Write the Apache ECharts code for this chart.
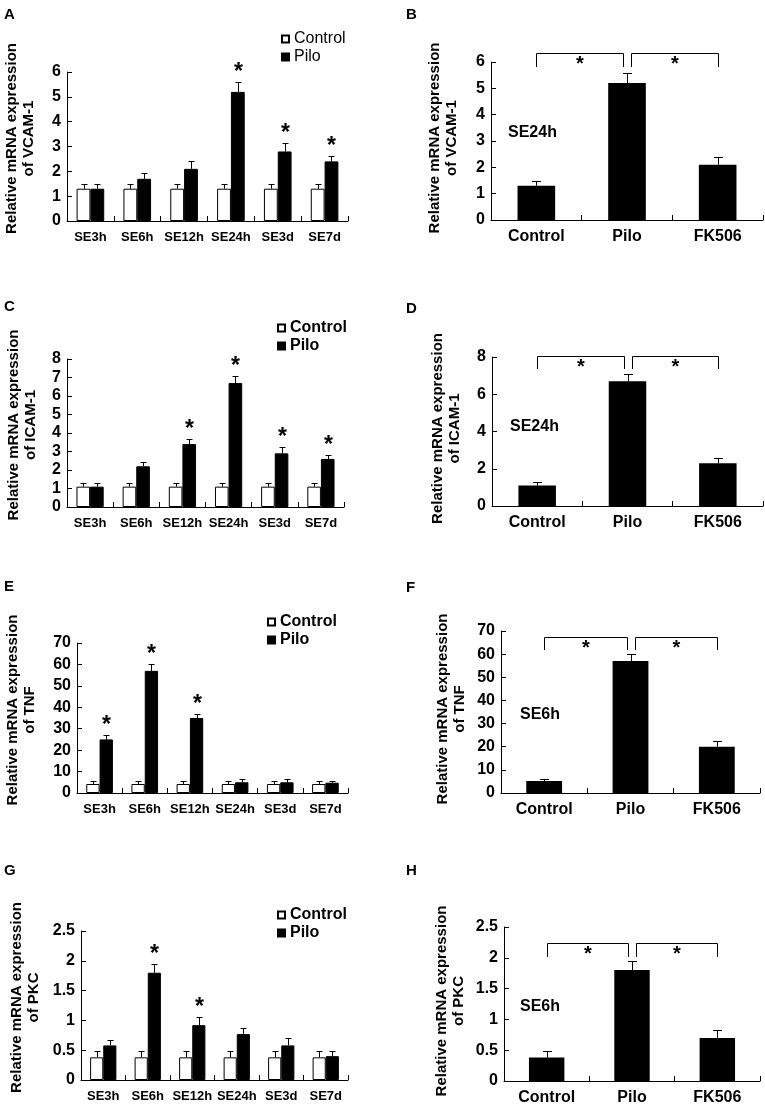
<!DOCTYPE html>
<html><head><meta charset="utf-8">
<script src="https://cdn.jsdelivr.net/npm/echarts@6/dist/echarts.min.js"></script>
<style>html,body{margin:0;padding:0;background:#fff}#c{width:765px;height:1108px}</style>
</head><body><div id="c"></div>
<script>
// ---------- data ----------
const timeCategories = ['SE3h', 'SE6h', 'SE12h', 'SE24h', 'SE3d', 'SE7d'];
const groupCategories = ['Control', 'Pilo', 'FK506'];

// A: VCAM-1 time course
const vcamControl   = [1.3, 1.3, 1.3, 1.3, 1.3, 1.3];
const vcamControlSd = [0.2, 0.2, 0.2, 0.2, 0.2, 0.2];
const vcamPilo      = [1.3, 1.7, 2.1, 5.2, 2.8, 2.4];
const vcamPiloSd    = [0.2, 0.25, 0.3, 0.4, 0.35, 0.2];
const vcamSig       = [0, 0, 0, 1, 1, 1];
// B: VCAM-1 SE24h
const vcamGroup     = [1.3, 5.2, 2.1];
const vcamGroupSd   = [0.2, 0.4, 0.3];
const vcamBrackets  = [[0, 1, 6.35, 5.8], [1, 2, 6.35, 5.8]];

// C: ICAM-1 time course
const icamControl   = [1.1, 1.1, 1.1, 1.1, 1.1, 1.1];
const icamControlSd = [0.2, 0.2, 0.2, 0.2, 0.2, 0.2];
const icamPilo      = [1.1, 2.2, 3.4, 6.7, 2.9, 2.6];
const icamPiloSd    = [0.2, 0.25, 0.3, 0.4, 0.35, 0.2];
const icamSig       = [0, 0, 1, 1, 1, 1];
// D: ICAM-1 SE24h
const icamGroup     = [1.1, 6.7, 2.3];
const icamGroupSd   = [0.2, 0.4, 0.3];
const icamBrackets  = [[0, 1, 8.07, 7.35], [1, 2, 8.07, 7.35]];

// E: TNF time course
const tnfControl    = [4.2, 4.2, 4.2, 4.2, 4.2, 4.2];
const tnfControlSd  = [1.2, 1.2, 1.2, 1.2, 1.2, 1.2];
const tnfPilo       = [25, 57, 35, 5, 5, 4.8];
const tnfPiloSd     = [2, 3, 2, 1.5, 1.5, 1];
const tnfSig        = [1, 1, 1, 0, 0, 0];
// F: TNF SE6h
const tnfGroup      = [5.2, 57, 20];
const tnfGroupSd    = [1, 3, 2.5];
const tnfBrackets   = [[0, 1, 67.4, 61.7], [1, 2, 67.4, 61.7]];

// G: PKC time course
const pkcControl    = [0.38, 0.38, 0.38, 0.38, 0.38, 0.38];
const pkcControlSd  = [0.1, 0.1, 0.1, 0.1, 0.1, 0.1];
const pkcPilo       = [0.58, 1.8, 0.92, 0.77, 0.58, 0.4];
const pkcPiloSd     = [0.09, 0.14, 0.13, 0.11, 0.13, 0.09];
const pkcSig        = [0, 1, 1, 0, 0, 0];
// H: PKC SE6h
const pkcGroup      = [0.38, 1.8, 0.7];
const pkcGroupSd    = [0.1, 0.14, 0.12];
const pkcBrackets   = [[0, 1, 2.24, 2.01], [1, 2, 2.24, 2.01]];

// axis scales and labels
const axisMax       = [6, 6, 8, 8, 70, 70, 2.5, 2.5];
const axisInterval  = [1, 1, 1, 2, 10, 10, 0.5, 0.5];
const yTitles = [
  'Relative mRNA expression\nof VCAM-1', 'Relative mRNA expression\nof VCAM-1',
  'Relative mRNA expression\nof ICAM-1', 'Relative mRNA expression\nof ICAM-1',
  'Relative mRNA expression\nof TNF', 'Relative mRNA expression\nof TNF',
  'Relative mRNA expression\nof PKC', 'Relative mRNA expression\nof PKC'
];
const panelLetters = ['A', 'B', 'C', 'D', 'E', 'F', 'G', 'H'];
const insetLabels  = ['SE24h', 'SE24h', 'SE6h', 'SE6h'];
const legendNames  = ['Control', 'Pilo'];

// ---------- layout ----------
const FONT = '"Liberation Sans", Arial, Helvetica, sans-serif';
const grids = [
  {left: 67,  top: 72,  width: 281, height: 149},
  {left: 491, top: 62,  width: 272, height: 158},
  {left: 67,  top: 359, width: 277, height: 148},
  {left: 492, top: 357, width: 271, height: 149},
  {left: 77,  top: 643, width: 271, height: 150},
  {left: 501, top: 631, width: 259, height: 162},
  {left: 81,  top: 931, width: 267, height: 149},
  {left: 504, top: 927, width: 256, height: 154}
];
const nameGaps = [30, 31, 28, 29, 39, 33, 39, 37];
const letterPos = [[4, 7], [406, 7], [4, 299], [406, 301], [4, 579], [406, 580], [4, 863], [406, 863]];
const insetPos = [[508, 125], [510, 419], [520, 707], [520, 999]];
const legendPos = [[281, 30, 'normal'], [277, 319, 'bold'], [267, 613, 'bold'], [277, 906, 'bold']];
const LEFT_GAP = 0.41, RIGHT_GAP = 0.585;

function errRender(sign, gap, cap, starSize) {
  return function (params, api) {
    const j = api.value(0), v = api.value(1), sd = api.value(2), sig = api.value(3);
    const p0 = api.coord([j, v]);
    const p1 = api.coord([j, v + sd]);
    const band = api.size([1, 0])[0];
    const bw = band * (1 - gap) / (sign === 0 ? 1 : 2);
    const x = Math.round(p0[0] + sign * bw / 2) + 0.5;
    const yt = Math.round(p1[1]) + 0.5;
    const ch = [
      {type: 'line', shape: {x1: x, y1: p0[1], x2: x, y2: yt}, style: {stroke: '#000', lineWidth: 1}},
      {type: 'line', shape: {x1: x - cap, y1: yt, x2: x + cap, y2: yt}, style: {stroke: '#000', lineWidth: 1}}
    ];
    if (sig) {
      ch.push({type: 'text', x: x, y: yt + 2, style: {
        text: '*', fontSize: starSize, fontWeight: 'bold', fontFamily: FONT, fill: '#000',
        align: 'center', verticalAlign: 'bottom'}});
    }
    return {type: 'group', children: ch};
  };
}

function bracketRender(inset, starSize) {
  return function (params, api) {
    const a = api.value(0), b = api.value(1), t = api.value(2), l = api.value(3);
    const pa = api.coord([a, t]), pb = api.coord([b, t]), pl = api.coord([a, l]);
    const xa = Math.round(pa[0] + (a === 1 ? inset : 0)) + 0.5;
    const xb = Math.round(pb[0] - (b === 1 ? inset : 0)) + 0.5;
    const yt = Math.round(pa[1]) + 0.5;
    const yl = Math.round(pl[1]);
    return {type: 'group', children: [
      {type: 'polyline', shape: {points: [[xa, yl], [xa, yt], [xb, yt], [xb, yl]]},
       style: {stroke: '#000', lineWidth: 1, fill: null}},
      {type: 'text', x: (xa + xb) / 2, y: yt + 21, style: {
        text: '*', fontSize: starSize, fontWeight: 'bold', fontFamily: FONT, fill: '#000',
        align: 'center', verticalAlign: 'bottom'}}
    ]};
  };
}

const xAxes = [], yAxes = [], series = [];
for (let i = 0; i < 8; i++) {
  const right = i % 2 === 1;
  xAxes.push({
    type: 'category', gridIndex: i, data: right ? groupCategories : timeCategories,
    axisLine: {show: true, lineStyle: {color: '#000', width: 1}},
    axisTick: {show: true, inside: true, length: 5, alignWithLabel: false, lineStyle: {color: '#000'}},
    axisLabel: {interval: 0, color: '#000', fontFamily: FONT, fontWeight: 'bold',
                fontSize: right ? 16 : 13, margin: right ? 9 : 10},
    splitLine: {show: false}
  });
  yAxes.push({
    type: 'value', gridIndex: i, min: 0, max: axisMax[i], interval: axisInterval[i],
    axisLine: {show: true, lineStyle: {color: '#000', width: 1}},
    axisTick: {show: true, inside: true, length: 5, lineStyle: {color: '#000'}},
    axisLabel: {color: '#000', fontFamily: FONT, fontWeight: 'bold', fontSize: 16, margin: 6},
    splitLine: {show: false},
    name: yTitles[i], nameLocation: 'middle', nameGap: nameGaps[i], nameRotate: 90,
    nameTextStyle: {color: '#000', fontFamily: FONT, fontWeight: 'bold', fontSize: 15, lineHeight: 17,
                    padding: right ? [0, 0, 0, 6] : [0, 0, 0, 16]}
  });
}

const leftSets = [
  [vcamControl, vcamControlSd, vcamPilo, vcamPiloSd, vcamSig],
  [icamControl, icamControlSd, icamPilo, icamPiloSd, icamSig],
  [tnfControl, tnfControlSd, tnfPilo, tnfPiloSd, tnfSig],
  [pkcControl, pkcControlSd, pkcPilo, pkcPiloSd, pkcSig]
];
const rightSets = [
  [vcamGroup, vcamGroupSd, vcamBrackets],
  [icamGroup, icamGroupSd, icamBrackets],
  [tnfGroup, tnfGroupSd, tnfBrackets],
  [pkcGroup, pkcGroupSd, pkcBrackets]
];

leftSets.forEach(function (s, k) {
  const gi = k * 2;
  const gapStr = (LEFT_GAP * 100) + '%';
  series.push({type: 'bar', name: 'Control', xAxisIndex: gi, yAxisIndex: gi, data: s[0],
    barGap: '0%', barCategoryGap: gapStr, itemStyle: {color: '#fff', borderColor: '#000', borderWidth: 1},
    emphasis: {disabled: true}, animation: false});
  series.push({type: 'bar', name: 'Pilo', xAxisIndex: gi, yAxisIndex: gi, data: s[2],
    barGap: '0%', barCategoryGap: gapStr, itemStyle: {color: '#000', borderColor: '#000', borderWidth: 1},
    emphasis: {disabled: true}, animation: false});
  series.push({type: 'custom', name: 'Control SD', xAxisIndex: gi, yAxisIndex: gi, z: 5,
    renderItem: errRender(-1, LEFT_GAP, 3, 23), encode: {x: 0, y: 1},
    data: s[0].map(function (v, j) { return [j, v, s[1][j], 0]; }), animation: false});
  series.push({type: 'custom', name: 'Pilo SD', xAxisIndex: gi, yAxisIndex: gi, z: 5,
    renderItem: errRender(1, LEFT_GAP, 3, 23), encode: {x: 0, y: 1},
    data: s[2].map(function (v, j) { return [j, v, s[3][j], s[4][j]]; }), animation: false});
});

rightSets.forEach(function (s, k) {
  const gi = k * 2 + 1;
  series.push({type: 'bar', name: 'Expression', xAxisIndex: gi, yAxisIndex: gi, data: s[0],
    barCategoryGap: (RIGHT_GAP * 100) + '%', itemStyle: {color: '#000'},
    emphasis: {disabled: true}, animation: false});
  series.push({type: 'custom', name: 'SD', xAxisIndex: gi, yAxisIndex: gi, z: 5,
    renderItem: errRender(0, RIGHT_GAP, 4.5, 20), encode: {x: 0, y: 1},
    data: s[0].map(function (v, j) { return [j, v, s[1][j], 0]; }), animation: false});
  series.push({type: 'custom', name: 'Significance', xAxisIndex: gi, yAxisIndex: gi, z: 5,
    renderItem: bracketRender(4, 20), encode: {x: 0, y: 2}, clip: false,
    data: s[2], animation: false});
});

const titles = panelLetters.map(function (t, i) {
  return {text: t, left: letterPos[i][0], top: letterPos[i][1], padding: 0,
    textStyle: {fontFamily: FONT, fontWeight: 'bold', fontSize: 15, color: '#000'}};
}).concat(insetLabels.map(function (t, i) {
  return {text: t, left: insetPos[i][0], top: insetPos[i][1], padding: 0,
    textStyle: {fontFamily: FONT, fontWeight: 'bold', fontSize: 16, color: '#000'}};
}));

const legends = legendPos.map(function (p) {
  return {data: legendNames, orient: 'vertical', left: p[0], top: p[1], padding: 0,
    itemGap: 0, itemWidth: 7, itemHeight: 7, icon: 'rect', selectedMode: false,
    textStyle: {fontFamily: FONT, fontSize: 16, fontWeight: p[2], color: '#000', lineHeight: 18, padding: [0, 0, 0, 0]}};
});

const chart = echarts.init(document.getElementById('c'), null, {renderer: 'canvas'});
chart.setOption({
  backgroundColor: '#fff',
  animation: false,
  title: titles,
  legend: legends,
  grid: grids.map(function (g) { return Object.assign({containLabel: false, outerBoundsMode: 'none'}, g); }),
  xAxis: xAxes,
  yAxis: yAxes,
  series: series
});
</script></body></html>
